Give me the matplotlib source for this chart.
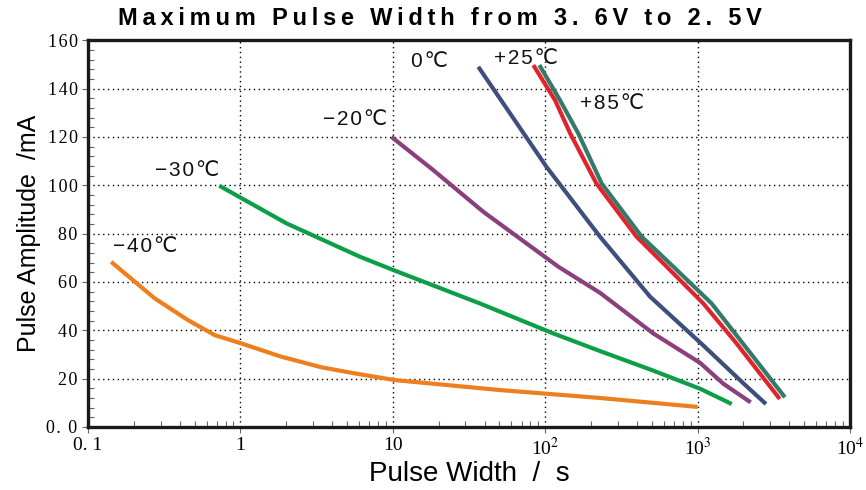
import matplotlib
matplotlib.use("Agg")
import matplotlib.pyplot as plt
from matplotlib.ticker import FixedLocator, MultipleLocator, LogLocator, NullFormatter

# curves: pulse width (s) vs pulse amplitude (mA)
m40_x = [0.142, 0.274, 0.453, 0.678, 1.01, 1.85, 3.4, 5.6, 10.3, 50, 229, 1000]
m40_y = [68.3, 53.2, 44.2, 38, 34.6, 29.1, 24.7, 22.2, 19.4, 15.3, 12, 8.3]
m30_x = [0.727, 2.01, 6.1, 10.1, 37.3, 113, 229, 498, 1040, 1675]
m30_y = [99.8, 84.2, 70.4, 64.9, 51.1, 38.7, 31.4, 23.6, 15.8, 9.5]
m20_x = [9.8, 18.4, 39.3, 122, 229, 512, 1040, 1475, 2230]
m20_y = [120, 106.3, 89, 66.3, 55.5, 38.7, 26.5, 17.9, 10.2]
z0_x = [36.4, 102, 229, 488, 1100, 2010, 2810]
z0_y = [149, 107.6, 78.7, 53.9, 33.5, 17.9, 9.5]
p25_x = [83.6, 116, 146, 217, 398, 627, 1090, 1800, 3460]
p25_y = [149.7, 135.2, 121.4, 100.7, 78.7, 66.3, 51.1, 34.6, 11.6]
p85_x = [91.6, 125, 165, 235, 430, 693, 1236, 1980, 3740]
p85_y = [149.7, 135.2, 121.4, 100.7, 78.7, 66.3, 51.1, 34.6, 12.3]

series = [
    (m40_x, m40_y, "#EE7F1E", "−40℃", (0.145, 74.5)),
    (m30_x, m30_y, "#0C9F48", "−30℃", (0.275, 106)),
    (m20_x, m20_y, "#8B3F7C", "−20℃", (3.5, 127)),
    (z0_x, z0_y, "#3F4E7C", "0℃", (13.2, 151)),
    (p25_x, p25_y, "#DF252B", "+25℃", (46, 152.5)),
    (p85_x, p85_y, "#347A6B", "+85℃", (169, 134)),
]

xticks = [0.1, 1, 10, 100, 1000, 10000]
xlabels = ["0. 1", "1", "10", "10$^{2}$", "10$^{3}$", "10$^{4}$"]
yticks = [0, 20, 40, 60, 80, 100, 120, 140, 160]
ylabels = ["0. 0", "20", "40", "60", "80", "100", "120", "140", "160"]

plt.rcParams["mathtext.fontset"] = "stix"
SANS = ["Liberation Sans", "DejaVu Sans"]
SERIF = ["Liberation Serif", "DejaVu Serif"]


def spaced(s, gap="\u2009"):
    # the original lettering is widely tracked
    return gap.join(s)


fig = plt.figure(figsize=(8.66, 4.9), dpi=100)
ax = fig.add_axes([0.1016, 0.1286, 0.8799, 0.7894])

for xs, ys, col, lab, pos in series:
    ax.plot(xs, ys, color=col, lw=3.0, solid_capstyle="butt")
    ax.text(pos[0], pos[1], spaced(lab, "\u200a"), fontsize=15, family=SANS,
            ha="left", va="center", color="#111")

ax.set_xscale("log")
ax.set_xlim(0.1, 10000)
ax.set_ylim(0, 160)

ax.xaxis.set_major_locator(FixedLocator(xticks))
ax.set_xticklabels(xlabels, family=SERIF, fontsize=14)
ax.xaxis.set_minor_locator(LogLocator(base=10, subs=range(2, 10)))
ax.xaxis.set_minor_formatter(NullFormatter())
ax.set_yticks(yticks)
ax.set_yticklabels([spaced(t, "\u200a") for t in ylabels], family=SERIF, fontsize=13)
ax.yaxis.set_minor_locator(MultipleLocator(4))

ax.tick_params(which="major", direction="out", length=4, width=0.8, color="#666")
ax.tick_params(which="minor", direction="in", length=4, width=0.8, color="#666")

ax.grid(True, which="major", color="black", ls=(0, (1, 2.5)), lw=1.0)
for s in ax.spines.values():
    s.set_linewidth(2.4)
    s.set_color("#1a1a1a")

ax.set_xlabel("Pulse Width  /  s", family=SANS, fontsize=20, labelpad=1)
ax.set_ylabel("Pulse Amplitude  /mA", family=SANS, fontsize=18, labelpad=4)
fig.text(0.508, 0.962, spaced("Maximum Pulse Width from 3. 6V to 2. 5V"),
         family=SANS, fontsize=17, fontweight="bold", ha="center", va="center")

fig.savefig("out.png", dpi=100)
